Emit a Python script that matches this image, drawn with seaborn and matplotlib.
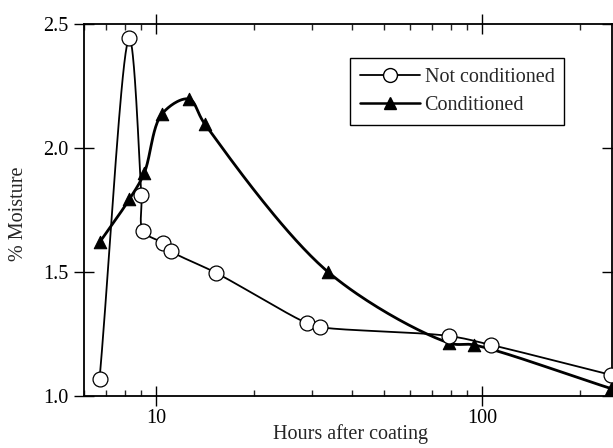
import numpy as np
import pandas as pd
import matplotlib
matplotlib.use('Agg')
import matplotlib.pyplot as plt
import matplotlib.ticker as mticker
from matplotlib.lines import Line2D
import seaborn as sns

# data
hours_nc = [6.7, 8.27, 9.0, 9.12, 10.5, 11.1, 15.3, 29.0, 31.9, 79.3, 106.6, 249]
moist_nc = [1.07, 2.443, 1.81, 1.665, 1.617, 1.585, 1.496, 1.294, 1.278, 1.242, 1.206, 1.085]
hours_c = [6.7, 8.27, 9.18, 10.4, 12.6, 14.1, 33.7, 79.3, 94.4, 249]
moist_c = [1.62, 1.794, 1.899, 2.137, 2.198, 2.097, 1.50, 1.214, 1.206, 1.03]

XLIM = (6.0, 250.0)
YLIM = (1.0, 2.5)


def smooth_curve(xs, ys, n=40, aspect=0.70):
    """centripetal Catmull-Rom through the points, done in log-x / normalised space"""
    lx = (np.log10(xs) - np.log10(XLIM[0])) / (np.log10(XLIM[1]) - np.log10(XLIM[0]))
    ly = (np.asarray(ys) - YLIM[0]) / (YLIM[1] - YLIM[0]) * aspect
    P = np.column_stack([lx, ly])
    P = np.vstack([2 * P[0] - P[1], P, 2 * P[-1] - P[-2]])
    out = []
    for i in range(1, len(P) - 2):
        p0, p1, p2, p3 = P[i - 1], P[i], P[i + 1], P[i + 2]
        t0 = 0.0
        t1 = t0 + np.linalg.norm(p1 - p0) ** 0.5
        t2 = t1 + np.linalg.norm(p2 - p1) ** 0.5
        t3 = t2 + np.linalg.norm(p3 - p2) ** 0.5
        t = np.linspace(t1, t2, n)[:, None]
        a1 = (t1 - t) / (t1 - t0) * p0 + (t - t0) / (t1 - t0) * p1
        a2 = (t2 - t) / (t2 - t1) * p1 + (t - t1) / (t2 - t1) * p2
        a3 = (t3 - t) / (t3 - t2) * p2 + (t - t2) / (t3 - t2) * p3
        b1 = (t2 - t) / (t2 - t0) * a1 + (t - t0) / (t2 - t0) * a2
        b2 = (t3 - t) / (t3 - t1) * a2 + (t - t1) / (t3 - t1) * a3
        c = (t2 - t) / (t2 - t1) * b1 + (t - t1) / (t2 - t1) * b2
        out.append(c)
    C = np.vstack(out)
    cx = 10 ** (C[:, 0] * (np.log10(XLIM[1]) - np.log10(XLIM[0])) + np.log10(XLIM[0]))
    cy = C[:, 1] / aspect * (YLIM[1] - YLIM[0]) + YLIM[0]
    return cx, cy


sns.set_style('ticks')
plt.rcParams['font.family'] = ['Liberation Serif', 'DejaVu Serif']
plt.rcParams['font.size'] = 14

df_nc = pd.DataFrame({'Hours': hours_nc, 'Moisture': moist_nc})
df_c = pd.DataFrame({'Hours': hours_c, 'Moisture': moist_c})

fig = plt.figure(figsize=(6.13, 4.48), dpi=100)
ax = fig.add_axes([0.137, 0.116, 0.861, 0.830])

cx, cy = smooth_curve(hours_nc, moist_nc)
ax.plot(cx, cy, color='black', lw=1.3, zorder=2)
cx, cy = smooth_curve(hours_c, moist_c)
ax.plot(cx, cy, color='black', lw=2.0, zorder=2)

sns.scatterplot(data=df_c, x='Hours', y='Moisture', marker='^', s=80,
                color='black', edgecolor='black', linewidth=0.8, ax=ax, zorder=3,
                clip_on=False)
sns.scatterplot(data=df_nc, x='Hours', y='Moisture', marker='o', s=115,
                facecolor='white', edgecolor='black', linewidth=0.9, ax=ax, zorder=4,
                clip_on=False)

ax.set_xscale('log')
ax.set_xlim(*XLIM)
ax.set_ylim(*YLIM)
ax.xaxis.set_major_locator(mticker.FixedLocator([10, 100]))
ax.xaxis.set_major_formatter(mticker.FormatStrFormatter('%d'))
ax.xaxis.set_minor_locator(mticker.LogLocator(base=10, subs=np.arange(2, 10)))
ax.xaxis.set_minor_formatter(mticker.NullFormatter())
ax.set_yticks([1.0, 1.5, 2.0, 2.5])
ax.yaxis.set_major_formatter(mticker.FormatStrFormatter('%.1f'))

ax.tick_params(which='major', direction='inout', length=15, width=1.0,
               top=True, right=True, labelsize=14.5, colors='black')
ax.tick_params(which='minor', direction='in', length=4, width=1.0, top=True)
ax.tick_params(axis='y', which='major', right=True, pad=4)
ax.tick_params(axis='x', which='major', pad=2)
for s in ax.spines.values():
    s.set_linewidth(1.3)
    s.set_color('black')

ax.set_xlabel('Hours after coating', fontsize=14.5)
ax.set_ylabel('% Moisture', fontsize=14.5)
ax.xaxis.set_label_coords(0.505, -0.075)
ax.yaxis.set_label_coords(-0.106, 0.49)

handles = [
    Line2D([], [], color='black', lw=1.3, marker='o', markersize=10,
           markerfacecolor='white', markeredgecolor='black'),
    Line2D([], [], color='black', lw=1.8, marker='^', markersize=8,
           markerfacecolor='black'),
]
leg = ax.legend(handles, ['Not conditioned', 'Conditioned'], loc='upper left',
                bbox_to_anchor=(0.504, 0.909), borderaxespad=0, frameon=True,
                fancybox=False, edgecolor='black', framealpha=1, fontsize=14.5,
                handlelength=3.0, handletextpad=0.2, borderpad=0.5,
                labelspacing=0.45)
leg.get_frame().set_linewidth(1.0)

fig.savefig('out.png', dpi=100)
